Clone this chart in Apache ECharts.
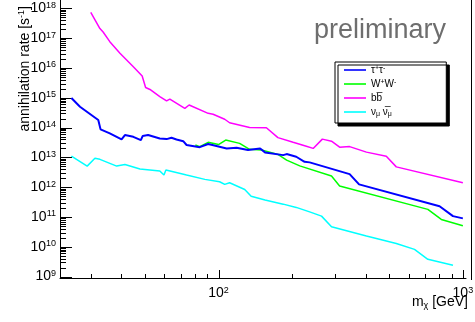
<!DOCTYPE html>
<html>
<head>
<meta charset="utf-8">
<title>annihilation rate</title>
<script src="https://cdn.jsdelivr.net/npm/echarts@6/dist/echarts.min.js"></script>
<style>
  html, body { margin: 0; padding: 0; background: #fff; }
  #chart { width: 475px; height: 322px; }
</style>
</head>
<body>
<div id="chart"></div>
<script>
// tau+ tau-
const tauMass = [25, 27.1, 32.2, 32.9, 35.9, 40.1, 41.4, 44.8, 48.1, 48.9, 51.5, 57.5, 61.3, 64.2, 67.3, 71.7, 74, 83.8, 90.7, 108, 118.5, 132, 148, 155, 184, 190, 208, 225, 236, 344, 376, 803, 911, 1000]
const tauRate = [9.8e14, 5.0e14, 1.8e14, 8.7e13, 6.4e13, 4.0e13, 5.6e13, 4.9e13, 3.8e13, 5.2e13, 5.6e13, 4.3e13, 4.1e13, 4.55e13, 4.0e13, 3.5e13, 2.6e13, 2.2e13, 2.8e13, 2.0e13, 2.1e13, 1.76e13, 2.0e13, 1.47e13, 1.19e13, 1.29e13, 1.05e13, 7.1e12, 6.8e12, 2.75e12, 1.24e12, 2.3e11, 1.07e11, 9.0e10]
// W+ W-
const wwMass = [80.4, 83.8, 90.7, 100, 107, 122, 134, 150, 175, 190, 215, 290, 313, 719, 816, 1000]
const wwRate = [2.6e13, 2.3e13, 3.2e13, 2.7e13, 3.8e13, 2.95e13, 1.86e13, 1.76e13, 1.26e13, 8.1e12, 5.2e12, 2.36e12, 1.09e12, 1.8e11, 8.3e10, 5.1e10]
// b bbar
const bbMass = [30, 32.7, 33.7, 35.9, 39.5, 44.8, 48.7, 50.3, 52.4, 57.5, 61.3, 63.2, 72.8, 75.8, 90.7, 95, 106, 111, 134, 157, 175, 202, 227, 244, 266, 290, 313, 344, 403, 486, 534, 1000]
const bbRate = [7.3e17, 2.1e17, 1.6e17, 7.6e16, 3.1e16, 1.1e16, 5.4e15, 2.2e15, 1.9e15, 1.1e15, 7.8e14, 9.0e14, 4.4e14, 5.7e14, 3.0e14, 2.8e14, 1.9e14, 1.45e14, 1.0e14, 9.9e13, 4.6e13, 3.2e13, 2.4e13, 2.0e13, 4.1e13, 3.5e13, 2.2e13, 2.3e13, 1.5e13, 1.1e13, 4.8e12, 1.4e12]
// nu_mu nubar_mu
const nuMass = [25, 29, 31.2, 32.7, 38.3, 41.4, 47.7, 57.5, 58.5, 59.8, 60.9, 74, 87.9, 101, 106, 111, 128, 136, 155, 184, 208, 236, 264, 290, 403, 534, 634, 719, 911]
const nuRate = [1.1e13, 5.1e12, 9.3e12, 8.6e12, 5.1e12, 5.8e12, 4.05e12, 3.5e12, 3.5e12, 2.55e12, 3.75e12, 2.55e12, 1.83e12, 1.52e12, 1.24e12, 1.41e12, 8.4e11, 5.0e11, 3.7e11, 2.7e11, 2.1e11, 1.49e11, 1.07e11, 4.7e10, 2.3e10, 1.3e10, 8.2e9, 3.8e9, 2.4e9]

const legendNames = ['tau', 'ww', 'bb', 'nu']
const legendLabels = {
  tau: 'τ{sup|+}τ{sup|-}',
  ww: 'W{sup|+}W{sup|-}',
  bb: 'bb\u0305',
  nu: 'ν{sub|μ} ν\u0305{sub|μ}'
}

// axis range and tick positions (log)
const xMin = 22.45
const xMax = 1030
const yMin = 9e8
const yMax = 1.9e18
const xDecades = [100, 1000]
const yDecades = [9, 10, 11, 12, 13, 14, 15, 16, 17, 18]
const minorSteps = [2, 3, 4, 5, 6, 7, 8, 9]
const xMinorBases = [10, 100]

const FONT = '"Liberation Sans", Arial, Helvetica, sans-serif'

function pairs (mass, rate) {
  return mass.map((m, i) => [m, rate[i]])
}

const supRich = {
  sup: { fontSize: 9, fontFamily: FONT, verticalAlign: 'bottom', padding: [0, 0, 6, 0] }
}

// thin line icon for the legend
const lineIcon = 'path://M0,0 M0,6.2 L22,6.2 L22,7.8 L0,7.8 Z M22,14'

let chart = echarts.init(document.getElementById('chart'), null, { renderer: 'canvas' })
chart.setOption({
  animation: false,
  backgroundColor: '#fff',
  grid: { left: 60, right: 9, top: 0, bottom: 44, containLabel: false, outerBoundsMode: 'none' },
  legend: {
    orient: 'vertical',
    left: 335,
    top: 62,
    data: legendNames,
    icon: lineIcon,
    selectedMode: false,
    itemWidth: 22,
    itemHeight: 14,
    itemGap: 0,
    padding: [1, 50, 4, 9],
    borderColor: '#000',
    borderWidth: 1,
    borderRadius: 0,
    backgroundColor: '#fff',
    shadowColor: '#000',
    shadowBlur: 0,
    shadowOffsetX: 3,
    shadowOffsetY: 3,
    formatter: name => legendLabels[name],
    textStyle: {
      fontFamily: FONT,
      fontSize: 10,
      lineHeight: 14,
      color: '#000',
      rich: {
        sup: { fontSize: 7, fontFamily: FONT, verticalAlign: 'bottom', padding: [0, 0, 5, 0] },
        sub: { fontSize: 7, fontFamily: FONT, verticalAlign: 'top', padding: [6, 0, 0, 0] }
      }
    }
  },
  xAxis: {
    type: 'log',
    min: xMin,
    max: xMax,
    splitLine: { show: false },
    axisTick: { show: false },
    axisLine: { lineStyle: { color: '#000', width: 1 } },
    axisLabel: {
      showMinLabel: false,
      showMaxLabel: false,
      margin: 8,
      fontFamily: FONT,
      fontSize: 14,
      color: '#000',
      formatter: v => '10{sup|' + Math.round(Math.log10(v)) + '}',
      rich: supRich
    }
  },
  yAxis: {
    type: 'log',
    min: yMin,
    max: yMax,
    splitLine: { show: false },
    axisTick: { show: false },
    axisLine: { lineStyle: { color: '#000', width: 1 } },
    axisLabel: {
      showMinLabel: false,
      showMaxLabel: false,
      margin: 4,
      fontFamily: FONT,
      fontSize: 14,
      color: '#000',
      formatter: v => '10{sup|' + Math.round(Math.log10(v)) + '}',
      rich: supRich
    }
  },
  series: [
    {
      name: 'tau',
      type: 'line',
      data: pairs(tauMass, tauRate),
      symbol: 'none',
      color: '#0000ff',
      lineStyle: { width: 2, color: '#0000ff' },
      z: 4
    },
    {
      name: 'ww',
      type: 'line',
      data: pairs(wwMass, wwRate),
      symbol: 'none',
      color: '#00ff00',
      lineStyle: { width: 1.5, color: '#00ff00' },
      z: 3
    },
    {
      name: 'bb',
      type: 'line',
      data: pairs(bbMass, bbRate),
      symbol: 'none',
      color: '#ff00ff',
      lineStyle: { width: 1.5, color: '#ff00ff' }
    },
    {
      name: 'nu',
      type: 'line',
      data: pairs(nuMass, nuRate),
      symbol: 'none',
      color: '#00ffff',
      lineStyle: { width: 1.5, color: '#00ffff' }
    }
  ]
})

// log tick marks, drawn inward (major long, minor short), placed through the axes
let tickLines = []
let origin = chart.convertToPixel({ gridIndex: 0 }, [xMin, yMin])
function yTick (v, len) {
  let y = Math.round(chart.convertToPixel({ yAxisIndex: 0 }, v)) + 0.5
  tickLines.push({ type: 'line', shape: { x1: origin[0], y1: y, x2: origin[0] + len, y2: y }, style: { stroke: '#000', lineWidth: 1 } })
}
function xTick (v, len) {
  let x = Math.round(chart.convertToPixel({ xAxisIndex: 0 }, v)) + 0.5
  tickLines.push({ type: 'line', shape: { x1: x, y1: origin[1], x2: x, y2: origin[1] - len }, style: { stroke: '#000', lineWidth: 1 } })
}
yDecades.forEach(d => {
  let base = Math.pow(10, d)
  yTick(base, 12)
  minorSteps.forEach(s => {
    if (s * base < yMax) yTick(s * base, 6)
  })
})
xDecades.forEach(v => xTick(v, 8))
xMinorBases.forEach(base => {
  minorSteps.forEach(s => {
    if (s * base > xMin && s * base < xMax) xTick(s * base, 4)
  })
})

chart.setOption({
  graphic: [
    {
      type: 'text',
      x: 25,
      y: 6,
      rotation: Math.PI / 2,
      style: {
        text: 'annihilation rate [s{sup|-1}]',
        font: '14px ' + FONT,
        fill: '#000',
        align: 'right',
        verticalAlign: 'middle',
        rich: { sup: { fontSize: 9, fontFamily: FONT, verticalAlign: 'bottom', padding: [0, 0, 6, 0] } }
      }
    },
    {
      type: 'text',
      x: 380,
      y: 31,
      style: {
        text: 'preliminary',
        font: '27px ' + FONT,
        fill: '#6e6e6e',
        align: 'center',
        verticalAlign: 'middle'
      }
    },
    {
      type: 'text',
      x: 468,
      y: 302,
      style: {
        text: 'm{sub|χ} [GeV]',
        font: '14px ' + FONT,
        fill: '#000',
        align: 'right',
        verticalAlign: 'middle',
        rich: { sub: { fontSize: 9, fontFamily: FONT, verticalAlign: 'top', padding: [7, 0, 0, 0] } }
      }
    },
    {
      type: 'line',
      shape: { x1: 471.5, y1: 0, x2: 471.5, y2: 280 },
      style: { stroke: '#000', lineWidth: 1 }
    }
  ].concat(tickLines)
})
</script>
</body>
</html>
